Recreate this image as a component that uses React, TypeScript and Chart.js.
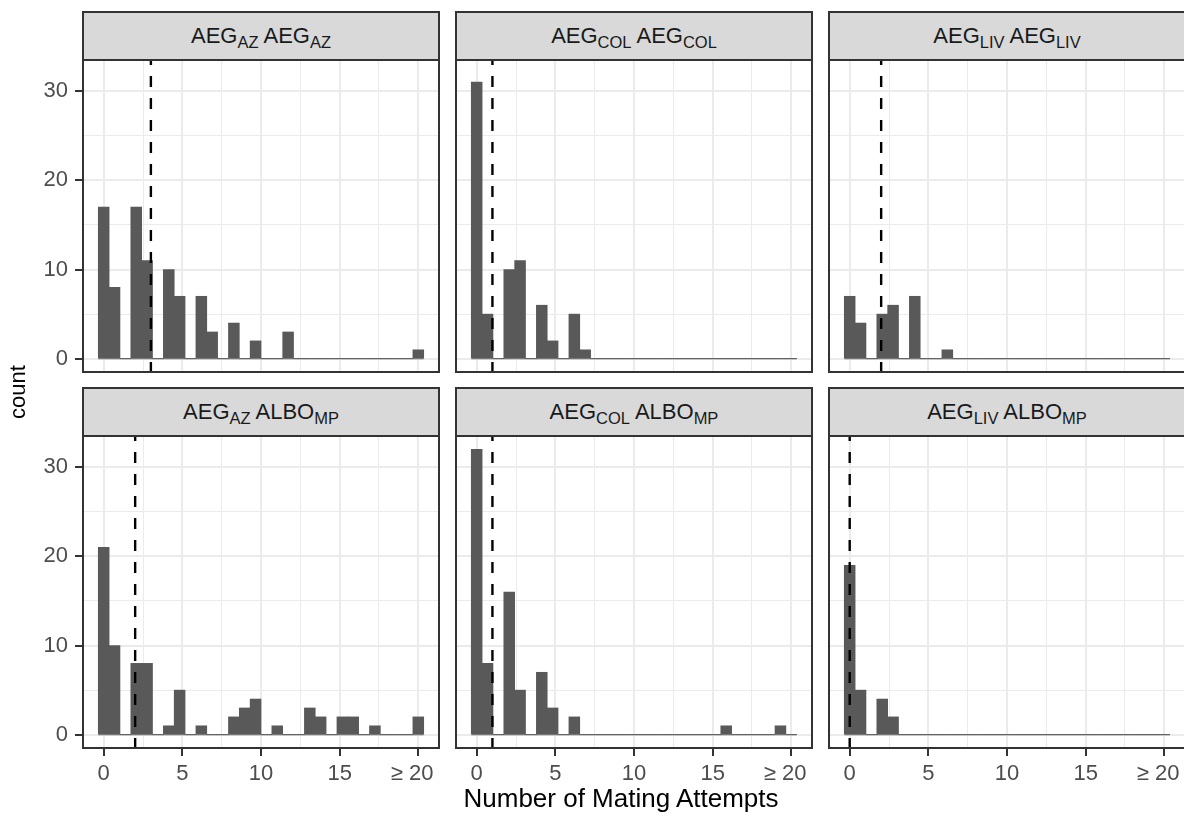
import React, { useEffect, useRef } from "react";
import { Chart, registerables } from "chart.js";

Chart.register(...registerables);

// Histogram counts: 30 equal-width bins spanning 0 to ≥ 20 mating attempts
const aegAzAegAz = [17, 8, 0, 17, 11, 0, 10, 7, 0, 7, 3, 0, 4, 0, 2, 0, 0, 3, 0, 0, 0, 0, 0, 0, 0, 0, 0, 0, 0, 1];
const aegColAegCol = [31, 5, 0, 10, 11, 0, 6, 2, 0, 5, 1, 0, 0, 0, 0, 0, 0, 0, 0, 0, 0, 0, 0, 0, 0, 0, 0, 0, 0, 0];
const aegLivAegLiv = [7, 4, 0, 5, 6, 0, 7, 0, 0, 1, 0, 0, 0, 0, 0, 0, 0, 0, 0, 0, 0, 0, 0, 0, 0, 0, 0, 0, 0, 0];
const aegAzAlboMp = [21, 10, 0, 8, 8, 0, 1, 5, 0, 1, 0, 0, 2, 3, 4, 0, 1, 0, 0, 3, 2, 0, 2, 2, 0, 1, 0, 0, 0, 2];
const aegColAlboMp = [32, 8, 0, 16, 5, 0, 7, 3, 0, 2, 0, 0, 0, 0, 0, 0, 0, 0, 0, 0, 0, 0, 0, 1, 0, 0, 0, 0, 1, 0];
const aegLivAlboMp = [19, 5, 0, 4, 2, 0, 0, 0, 0, 0, 0, 0, 0, 0, 0, 0, 0, 0, 0, 0, 0, 0, 0, 0, 0, 0, 0, 0, 0, 0];

// Median number of attempts per pairing (dashed reference line)
const medians = [3, 1, 2, 2, 1, 0];

// Facet strip labels: [main, subscript] pairs
const stripLabels: [string, string][][] = [
  [["AEG", "AZ"], ["AEG", "AZ"]],
  [["AEG", "COL"], ["AEG", "COL"]],
  [["AEG", "LIV"], ["AEG", "LIV"]],
  [["AEG", "AZ"], ["ALBO", "MP"]],
  [["AEG", "COL"], ["ALBO", "MP"]],
  [["AEG", "LIV"], ["ALBO", "MP"]],
];

// Axis ticks (the last label carries trailing spaces so its glyphs sit left of the tick)
const xMajorTicks = [0, 5, 10, 15, 20];
const xTickLabels = ["0", "5", "10", "15", "≥ 20  "];
const xGridValues = [0, 2.5, 5, 7.5, 10, 12.5, 15, 17.5, 20];
const yMajorTicks = [0, 10, 20, 30];
const yTickLabels = ["0", "10", "20", "30"];
const yGridValues = [0, 5, 10, 15, 20, 25, 30];

const xTitle = "Number of Mating Attempts";
const yTitle = "count";

const panelCounts = [aegAzAegAz, aegColAegCol, aegLivAegLiv, aegAzAlboMp, aegColAlboMp, aegLivAlboMp];

// Binning and scale limits (5% expansion on each side)
const nBins = 30;
const binLo = 0;
const binHi = 20;
const binWidth = (binHi - binLo) / (nBins - 1);
const binCenters = Array.from({ length: nBins }, (_, i) => binLo + i * binWidth);
const xSpanLo = binLo - binWidth / 2;
const xSpanHi = binHi + binWidth / 2;
const xExp = (xSpanHi - xSpanLo) * 0.05;
const xMin = xSpanLo - xExp;
const xMax = xSpanHi + xExp;
const yTop = Math.max(...panelCounts.map((c) => Math.max(...c)));
const yMin = -yTop * 0.05;
const yMax = yTop * 1.05;

const FONT = "'Liberation Sans', Arial, Helvetica, sans-serif";

// Page layout
const COL_LEFT = [82, 455, 828];
const PANEL_W = 358;
const PANEL_H = 314;
const ROW_TOP = [59, 435];
const STRIP_TOP = [11, 387];
const STRIP_H = 48;
const Y_AXIS_W = 82;
const X_AXIS_H = 50;

const zeroPadding = (s: any) => {
  s.paddingTop = 0;
  s.paddingBottom = 0;
  s.paddingLeft = 0;
  s.paddingRight = 0;
};

const panelDecor = {
  id: "panelDecor",
  afterDatasetsDraw(chart: any, _args: any, opts: any) {
    const { ctx, chartArea, scales } = chart;
    const x = scales.x.getPixelForValue(opts.median);
    ctx.save();
    ctx.beginPath();
    ctx.rect(chartArea.left, chartArea.top, chartArea.right - chartArea.left, chartArea.bottom - chartArea.top);
    ctx.clip();
    ctx.setLineDash([11, 11]);
    ctx.lineWidth = 2.4;
    ctx.strokeStyle = "#000000";
    ctx.beginPath();
    ctx.moveTo(x, chartArea.bottom);
    ctx.lineTo(x, chartArea.top);
    ctx.stroke();
    ctx.restore();
  },
  afterDraw(chart: any) {
    const { ctx, chartArea } = chart;
    ctx.save();
    ctx.strokeStyle = "#333333";
    ctx.lineWidth = 2;
    ctx.strokeRect(
      chartArea.left + 1,
      chartArea.top + 1,
      chartArea.right - chartArea.left - 2,
      chartArea.bottom - chartArea.top - 2
    );
    ctx.restore();
  },
};

function Panel({ index }: { index: number }) {
  const ref = useRef<HTMLCanvasElement>(null);
  const col = index % 3;
  const row = Math.floor(index / 3);
  const showY = col === 0;
  const showX = row === 1;
  const width = PANEL_W + (showY ? Y_AXIS_W : 0);
  const height = PANEL_H + (showX ? X_AXIS_H : 0);
  const left = COL_LEFT[col] - (showY ? Y_AXIS_W : 0);
  const top = ROW_TOP[row];

  useEffect(() => {
    if (!ref.current) return;
    const counts = panelCounts[index];
    const chart = new Chart(ref.current, {
      type: "bar",
      data: {
        datasets: [
          {
            type: "bar",
            data: counts.map((c, i) => ({ x: binCenters[i], y: c })),
            backgroundColor: "#595959",
            borderWidth: 0,
            barPercentage: 1,
            categoryPercentage: 1,
            order: 2,
          } as any,
          {
            type: "line",
            data: [
              { x: xSpanLo, y: 0 },
              { x: xSpanHi, y: 0 },
            ],
            borderColor: "#595959",
            borderWidth: 1,
            pointRadius: 0,
            order: 1,
          } as any,
        ],
      },
      options: {
        animation: false,
        responsive: false,
        maintainAspectRatio: false,
        events: [],
        layout: { padding: 0, autoPadding: false } as any,
        plugins: {
          legend: { display: false },
          tooltip: { enabled: false },
          panelDecor: { median: medians[index] },
        } as any,
        scales: {
          x: {
            type: "linear",
            min: xMin,
            max: xMax,
            offset: false,
            border: { display: false },
            grid: {
              offset: false,
              color: "#ebebeb",
              lineWidth: (c: any) => (c.tick && xMajorTicks.includes(c.tick.value) ? 2 : 1),
              drawTicks: showX,
              tickLength: 7,
              tickColor: (c: any) =>
                c.tick && xMajorTicks.includes(c.tick.value) ? "#333333" : "rgba(0,0,0,0)",
              tickWidth: 2,
            },
            ticks: {
              display: showX,
              autoSkip: false,
              maxRotation: 0,
              minRotation: 0,
              padding: 5,
              color: "#4d4d4d",
              font: { family: FONT, size: 22 },
              callback: (v: any) => {
                const k = xMajorTicks.indexOf(Number(v));
                return k >= 0 ? xTickLabels[k] : "";
              },
            },
            afterBuildTicks: (s: any) => {
              s.ticks = xGridValues.map((v) => ({ value: v }));
            },
            afterFit: (s: any) => {
              s.height = showX ? X_AXIS_H : 0;
              zeroPadding(s);
            },
          },
          y: {
            type: "linear",
            min: yMin,
            max: yMax,
            border: { display: false },
            grid: {
              color: "#ebebeb",
              lineWidth: (c: any) => (c.tick && yMajorTicks.includes(c.tick.value) ? 2 : 1),
              drawTicks: showY,
              tickLength: 7,
              tickColor: (c: any) =>
                c.tick && yMajorTicks.includes(c.tick.value) ? "#333333" : "rgba(0,0,0,0)",
              tickWidth: 2,
            },
            ticks: {
              display: showY,
              autoSkip: false,
              padding: 7,
              color: "#4d4d4d",
              font: { family: FONT, size: 22 },
              callback: (v: any) => {
                const k = yMajorTicks.indexOf(Number(v));
                return k >= 0 ? yTickLabels[k] : "";
              },
            },
            afterBuildTicks: (s: any) => {
              s.ticks = yGridValues.map((v) => ({ value: v }));
            },
            afterFit: (s: any) => {
              s.width = showY ? Y_AXIS_W : 0;
              zeroPadding(s);
            },
          },
        },
      } as any,
      plugins: [panelDecor],
    });
    return () => chart.destroy();
  }, [index]);

  return (
    <canvas
      ref={ref}
      width={width}
      height={height}
      style={{ position: "absolute", left, top, width, height }}
    />
  );
}

function Strip({ index }: { index: number }) {
  const col = index % 3;
  const row = Math.floor(index / 3);
  const parts = stripLabels[index];
  return (
    <div
      style={{
        position: "absolute",
        left: COL_LEFT[col],
        top: STRIP_TOP[row],
        width: PANEL_W,
        height: STRIP_H,
        boxSizing: "border-box",
        background: "#d9d9d9",
        borderTop: "2px solid #333333",
        borderLeft: "2px solid #333333",
        borderRight: "2px solid #333333",
        display: "flex",
        alignItems: "center",
        justifyContent: "center",
        fontFamily: FONT,
        fontSize: 22,
        lineHeight: 1,
        color: "#1a1a1a",
        whiteSpace: "pre",
      }}
    >
      <span>
        {parts.map(([main, sub], k) => (
          <React.Fragment key={k}>
            {k > 0 ? " " : ""}
            {main}
            <span style={{ fontSize: "0.75em", position: "relative", top: "0.3em", lineHeight: 0 }}>{sub}</span>
          </React.Fragment>
        ))}
      </span>
    </div>
  );
}

export default function App() {
  return (
    <div
      style={{
        position: "absolute",
        left: 0,
        top: 0,
        width: 1184,
        height: 817,
        overflow: "hidden",
        background: "#ffffff",
      }}
    >
      {panelCounts.map((_, i) => (
        <React.Fragment key={i}>
          <Strip index={i} />
          <Panel index={i} />
        </React.Fragment>
      ))}
      <div
        style={{
          position: "absolute",
          left: 0,
          top: 798 - 15,
          width: 1242,
          height: 30,
          lineHeight: "30px",
          textAlign: "center",
          fontFamily: FONT,
          fontSize: 26,
          color: "#000000",
        }}
      >
        {xTitle}
      </div>
      <div
        style={{
          position: "absolute",
          left: 18 - 50,
          top: 392 - 15,
          width: 100,
          height: 30,
          lineHeight: "30px",
          textAlign: "center",
          fontFamily: FONT,
          fontSize: 22,
          color: "#000000",
          transform: "rotate(-90deg)",
        }}
      >
        {yTitle}
      </div>
    </div>
  );
}
